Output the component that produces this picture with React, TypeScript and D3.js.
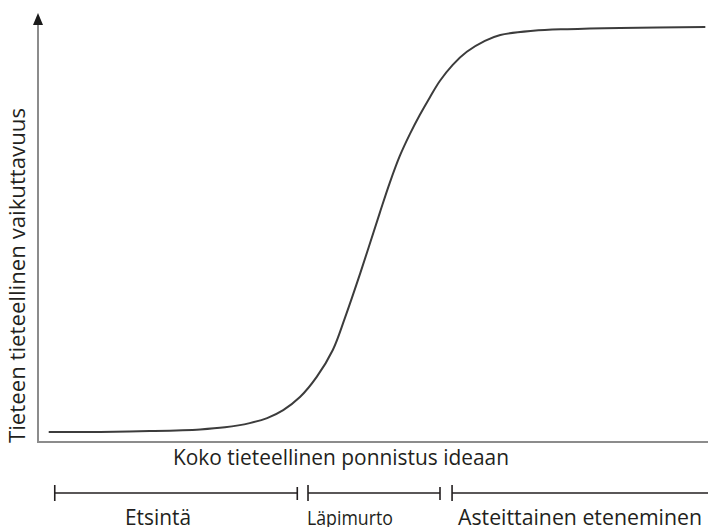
import React from "react";
import * as d3 from "d3";

// Curve: effort (0-100) vs impact (0-100)
const effort = [1.6, 9.3, 16.7, 24.2, 27.9, 31.6, 34.2, 36.6, 39.1, 41.6, 44.0, 45.8, 48.1, 51.0, 52.5, 54.0, 55.5, 57.0, 58.5, 60.0, 61.9, 64.0, 66.7, 69.0, 73.9, 79.0, 86.9, 99.6];
const impact = [2.4, 2.4, 2.6, 3.0, 3.5, 4.5, 5.7, 7.6, 10.7, 15.5, 21.9, 29.5, 40.2, 54.5, 61.7, 68.1, 73.3, 77.9, 82.1, 86.0, 89.8, 92.9, 95.5, 96.9, 97.9, 98.3, 98.6, 98.8];

const phaseNames = ["Etsintä", "Läpimurto", "Asteittainen eteneminen"];
const phaseStart = [2.5, 40.3, 61.8];
const phaseEnd = [38.7, 60.0, 100];

const xTitle = "Koko tieteellinen ponnistus ideaan";
const yTitle = "Tieteen tieteellinen vaikuttavuus";

const W = 708;
const H = 527;

const phaseLabelLeft = [125, 307, 458];
const phaseLabelWidth = [66, 86, 244];
const phaseLabelSize = [21, 20, 21];

export default function App() {
  const x = d3.scaleLinear().domain([0, 100]).range([38, 708]);
  const y = d3.scaleLinear().domain([0, 100]).range([442, 22]);

  const pts: [number, number][] = effort.map((e, i) => [e, impact[i]]);
  const line = d3
    .line<[number, number]>()
    .x((d) => x(d[0]))
    .y((d) => y(d[1]))
    .curve(d3.curveCatmullRom.alpha(0.5));

  const font = "'Open Sans', 'Noto Sans', sans-serif";
  const axisColor = "#8c8c8c";
  const textColor = "#231f20";
  const x0 = x(0);
  const y0 = y(0);
  const bracketY = 493;

  return (
    <div style={{ position: "absolute", left: 0, top: 0 }}>
      <svg width={W} height={H} style={{ display: "block", background: "#fff" }}>
        {/* axes */}
        <line x1={x0} y1={y0} x2={x0} y2={24} stroke={axisColor} strokeWidth={2} />
        <path d={`M${x0},13 L${x0 - 5},25 L${x0 + 5},25 Z`} fill="#1a1a1a" />
        <line x1={x0 - 1} y1={y0} x2={x(100)} y2={y0} stroke={axisColor} strokeWidth={2} />

        {/* curve */}
        <path d={line(pts) || ""} fill="none" stroke="#3c3c3c" strokeWidth={2} />

        {/* titles */}
        <text
          x={173}
          y={465}
          fontFamily={font}
          fontSize={21}
          fill={textColor}
          textLength={336}
          lengthAdjust="spacingAndGlyphs"
        >
          {xTitle}
        </text>
        <text
          transform={`translate(25, 443) rotate(-90)`}
          fontFamily={font}
          fontSize={21.5}
          fill={textColor}
          textLength={335}
          lengthAdjust="spacingAndGlyphs"
        >
          {yTitle}
        </text>

        {/* phase brackets */}
        {phaseNames.map((name, i) => {
          const a = x(phaseStart[i]);
          const b = x(phaseEnd[i]);
          return (
            <g key={name}>
              <line x1={a} y1={bracketY} x2={b} y2={bracketY} stroke={textColor} strokeWidth={1.6} />
              <line x1={a} y1={485} x2={a} y2={501} stroke={textColor} strokeWidth={1.6} />
              {phaseEnd[i] < 100 && (
                <line x1={b} y1={487} x2={b} y2={500} stroke={textColor} strokeWidth={1.6} />
              )}
              <text
                x={phaseLabelLeft[i]}
                y={525}
                fontFamily={font}
                fontSize={phaseLabelSize[i]}
                fill={textColor}
                textLength={phaseLabelWidth[i]}
                lengthAdjust="spacingAndGlyphs"
              >
                {name}
              </text>
            </g>
          );
        })}
      </svg>
    </div>
  );
}
